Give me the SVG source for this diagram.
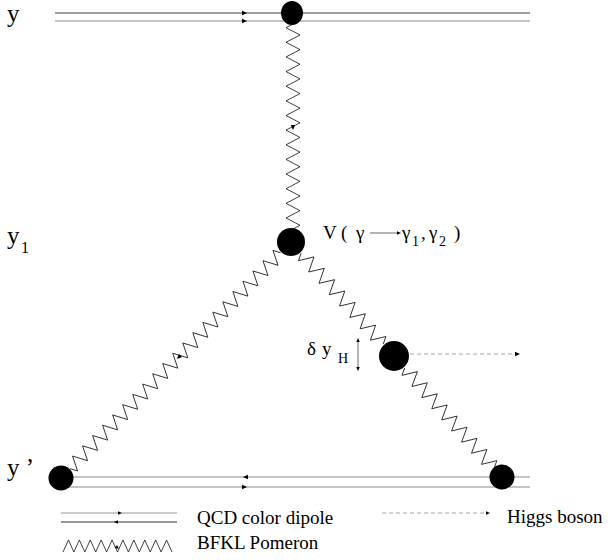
<svg xmlns="http://www.w3.org/2000/svg" xmlns:xlink="http://www.w3.org/1999/xlink" width="608" height="560" viewBox="0 0 608 560">
<style>
.t{font-family:"Liberation Serif","Times New Roman",serif;fill:#000}
.big{font-size:25px}
.mid{font-size:19px}
.sub{font-size:14px}
.zz{fill:none;stroke:#111;stroke-width:0.8;stroke-linejoin:miter}
.dip1{stroke:#444;stroke-width:1.2;fill:none}
.dip2{stroke:#c4c4c4;stroke-width:2;fill:none}
.dash{stroke:#aaa;stroke-width:1;stroke-dasharray:4 3;fill:none}
.dot{fill:#000}
</style>
<defs>
<path id="ah" d="M0,0 L-5,-2.2 L-5,2.2 Z" fill="#000"/>
</defs>
<rect width="608" height="560" fill="#fff"/>

<g id="connectors">
  <!-- top dipole -->
  <line class="dip1" x1="55" y1="13" x2="530" y2="13"/>
  <line class="dip2" x1="55" y1="21" x2="530" y2="21"/>
  <use xlink:href="#ah" transform="translate(247,13)"/>
  <use xlink:href="#ah" transform="translate(247,21)"/>
  <!-- bottom dipole -->
  <line class="dip2" x1="62" y1="477" x2="530" y2="477"/>
  <line class="dip2" x1="62" y1="487" x2="530" y2="487"/>
  <use xlink:href="#ah" transform="translate(243,477) rotate(180)"/>
  <use xlink:href="#ah" transform="translate(247,487)"/>
  <!-- vertical pomeron -->
  <path class="zz" transform="translate(293,24) rotate(90)" d="M0,0 l3.66,7 l7.32,-14 l7.32,14 l7.32,-14 l7.32,14 l7.32,-14 l7.32,14 l7.32,-14 l7.32,14 l7.32,-14 l7.32,14 l7.32,-14 l7.32,14 l7.32,-14 l7.32,14 l7.32,-14 l7.32,14 l7.32,-14 l7.32,14 l7.32,-14 l7.32,14 l7.32,-14 l7.32,14 l7.32,-14 l7.32,14 l7.32,-14 l7.32,14 l7.32,-14 l3.66,7"/>
  <use xlink:href="#ah" transform="translate(293,130) rotate(90)"/>
  <!-- left pomeron -->
  <path class="zz" transform="translate(280.5,252.7) rotate(134.26)" d="M0,0 l3.59,7 l7.18,-14 l7.18,14 l7.18,-14 l7.18,14 l7.18,-14 l7.18,14 l7.18,-14 l7.18,14 l7.18,-14 l7.18,14 l7.18,-14 l7.18,14 l7.18,-14 l7.18,14 l7.18,-14 l7.18,14 l7.18,-14 l7.18,14 l7.18,-14 l7.18,14 l7.18,-14 l7.18,14 l7.18,-14 l7.18,14 l7.18,-14 l7.18,14 l7.18,-14 l7.18,14 l7.18,-14 l7.18,14 l7.18,-14 l7.18,14 l7.18,-14 l7.18,14 l7.18,-14 l7.18,14 l7.18,-14 l7.18,14 l7.18,-14 l7.18,14 l7.18,-14 l3.59,7"/>
  <use xlink:href="#ah" transform="translate(177,359) rotate(134.26)"/>
  <!-- right upper pomeron -->
  <path class="zz" transform="translate(301.1,253.1) rotate(47.9)" d="M0,0 l3.83,7 l7.66,-14 l7.66,14 l7.66,-14 l7.66,14 l7.66,-14 l7.66,14 l7.66,-14 l7.66,14 l7.66,-14 l7.66,14 l7.66,-14 l7.66,14 l7.66,-14 l7.66,14 l7.66,-14 l3.83,7"/>
  <!-- right lower pomeron -->
  <path class="zz" transform="translate(404.7,367.9) rotate(48.25)" d="M0,0 l3.73,7 l7.46,-14 l7.46,14 l7.46,-14 l7.46,14 l7.46,-14 l7.46,14 l7.46,-14 l7.46,14 l7.46,-14 l7.46,14 l7.46,-14 l7.46,14 l7.46,-14 l7.46,14 l7.46,-14 l7.46,14 l7.46,-14 l3.73,7"/>
  <!-- Higgs line -->
  <line class="dash" x1="410" y1="354" x2="516" y2="354"/>
  <use xlink:href="#ah" transform="translate(520,354)"/>
  <!-- delta y_H double arrow -->
  <line x1="358" y1="340" x2="358" y2="369" stroke="#444" stroke-width="0.8"/>
  <use xlink:href="#ah" transform="translate(358,338) rotate(-90) scale(0.8)"/>
  <use xlink:href="#ah" transform="translate(358,371) rotate(90) scale(0.8)"/>
  <!-- vertex arrow in label -->
  <line x1="370" y1="233" x2="397" y2="233" stroke="#444" stroke-width="0.8"/>
  <use xlink:href="#ah" transform="translate(401,233) scale(0.8)"/>
</g>

<g id="node-top"><ellipse class="dot" cx="292" cy="13" rx="11" ry="12"/></g>
<g id="node-vertex"><circle class="dot" cx="291" cy="242" r="14"/></g>
<g id="node-higgs"><circle class="dot" cx="394" cy="356" r="15"/></g>
<g id="node-left"><circle class="dot" cx="61" cy="478" r="12.5"/></g>
<g id="node-right"><circle class="dot" cx="502" cy="477" r="12.5"/></g>

<g id="labels">
  <text class="t big" x="7" y="22">y</text>
  <text class="t big" x="7" y="244">y</text>
  <text class="t sub" x="21" y="253" style="font-size:16px">1</text>
  <text class="t big" x="7" y="476">y ’</text>
  <text class="t mid" y="239"><tspan x="323">V</tspan><tspan x="341">(</tspan><tspan x="356">γ</tspan><tspan x="402">γ</tspan><tspan x="412" dy="7" class="sub">1</tspan><tspan x="421" dy="-7">,</tspan><tspan x="429">γ</tspan><tspan x="439" dy="7" class="sub">2</tspan><tspan x="454" dy="-7">)</tspan></text>
  <text class="t mid" y="355"><tspan x="307">δ</tspan><tspan x="322">y</tspan><tspan x="338" dy="8" class="sub">H</tspan></text>
</g>

<g id="legend">
  <line x1="61" y1="513" x2="177" y2="513" stroke="#999" stroke-width="1"/>
  <line x1="61" y1="522" x2="177" y2="522" stroke="#333" stroke-width="1"/>
  <use xlink:href="#ah" transform="translate(122,513) scale(0.8)"/>
  <use xlink:href="#ah" transform="translate(114,522) rotate(180) scale(0.8)"/>
  <text class="t mid" x="197" y="524">QCD color dipole</text>
  <path class="zz" d="M63,552 l5.45,-12 l5.45,12 l5.45,-12 l5.45,12 l5.45,-12 l5.45,12 l5.45,-12 l5.45,12 l5.45,-12 l5.45,12 l5.45,-12 l5.45,12 l5.45,-12 l5.45,12 l5.45,-12 l5.45,12 l5.45,-12 l5.45,12 l5.45,-12 l5.45,12"/>
  <use xlink:href="#ah" transform="translate(119,549) rotate(40) scale(0.8)"/>
  <text class="t mid" x="197" y="549">BFKL Pomeron</text>
  <line class="dash" x1="382" y1="513" x2="486" y2="513"/>
  <use xlink:href="#ah" transform="translate(490,513) scale(0.8)"/>
  <text class="t mid" x="507" y="523">Higgs boson</text>
</g>
</svg>
